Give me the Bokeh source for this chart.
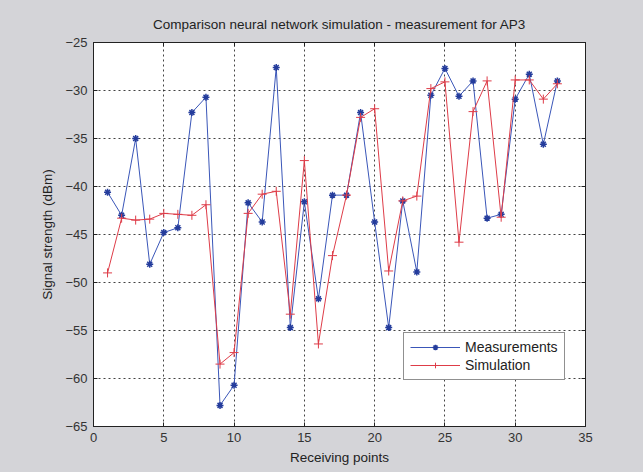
from bokeh.plotting import figure
from bokeh.models import (ColumnDataSource, Range1d, LinearAxis, Legend, LegendItem,
                          FixedTicker, Title)
from bokeh.embed import file_html
from bokeh.resources import INLINE
from bokeh.core.templates import get_env

# ---- data ----
points = list(range(1, 34))
measurements = [-40.6, -43.0, -35.0, -48.1, -44.8, -44.3, -32.3, -30.7, -62.8, -60.7,
                -41.7, -43.7, -27.6, -54.7, -41.6, -51.7, -40.9, -40.9, -32.3, -43.7,
                -54.7, -41.5, -48.9, -30.5, -27.7, -30.6, -29.0, -43.3, -42.9, -30.9,
                -28.3, -35.6, -29.0]
simulation = [-49.0, -43.3, -43.5, -43.4, -42.8, -42.9, -43.0, -41.9, -58.5, -57.3,
              -42.8, -40.8, -40.5, -53.3, -37.3, -56.4, -47.2, -40.9, -32.8, -31.9,
              -48.8, -41.5, -41.0, -29.8, -29.1, -45.8, -32.2, -29.0, -43.2, -28.9,
              -28.9, -30.9, -29.3]
x_ticks = [0, 5, 10, 15, 20, 25, 30, 35]
y_ticks = [-65, -60, -55, -50, -45, -40, -35, -30, -25]
title_text = "Comparison neural network simulation - measurement for AP3"
x_label = "Receiving points"
y_label = "Signal strength (dBm)"
series_names = ["Measurements", "Simulation"]

BG = "#d4d4d8"
BLUE = "#3a56b8"
RED = "#de3c48"
FONT = "Liberation Sans"

src = ColumnDataSource(dict(x=points, m=measurements, s=simulation))

p = figure(width=643, height=472, output_backend="svg", toolbar_location=None,
           x_range=Range1d(0, 35), y_range=Range1d(-65, -25),
           min_border_left=93, min_border_right=58, min_border_top=42, min_border_bottom=46)
p.frame_width = 492
p.frame_height = 384

p.background_fill_color = "white"
p.border_fill_color = BG
p.outline_line_color = "#222222"
p.outline_line_width = 1

p.title = Title(text=title_text, align="center", text_font=FONT, text_font_size="13.5px",
                text_font_style="normal", text_color="#222222", offset=0, standoff=22)
p.title.align = "center"

for ax, ticks in ((p.xaxis[0], x_ticks), (p.yaxis[0], y_ticks)):
    ax.ticker = FixedTicker(ticks=ticks)
    ax.major_tick_in = 4
    ax.major_tick_out = 0
    ax.minor_tick_line_color = None
    ax.axis_line_color = "#222222"
    ax.major_tick_line_color = "#222222"
    ax.major_label_text_font = FONT
    ax.major_label_text_font_size = "13px"
    ax.major_label_text_color = "#333333"
    ax.axis_label_text_font = FONT
    ax.axis_label_text_font_size = "13.5px"
    ax.axis_label_text_font_style = "normal"
    ax.axis_label_text_color = "#222222"

p.xaxis[0].axis_label = x_label
p.yaxis[0].axis_label = y_label
p.xaxis[0].major_label_standoff = 6
p.xaxis[0].axis_label_standoff = 5
p.yaxis[0].major_label_standoff = 6
p.yaxis[0].axis_label_standoff = 7

for loc, ticks in (("right", y_ticks), ("above", x_ticks)):
    ax = LinearAxis(ticker=FixedTicker(ticks=ticks), major_tick_in=4, major_tick_out=0,
                    minor_tick_line_color=None, major_label_text_font_size="0px",
                    major_label_text_color=None, axis_line_color="#222222",
                    major_tick_line_color="#222222", major_label_standoff=0)
    p.add_layout(ax, loc)

p.xgrid.ticker = FixedTicker(ticks=x_ticks)
p.ygrid.ticker = FixedTicker(ticks=y_ticks)
for g in (p.xgrid[0], p.ygrid[0]):
    g.grid_line_color = "#222222"
    g.grid_line_dash = "2 3"
    g.grid_line_alpha = 0.85
    g.grid_line_width = 1

lm = p.line("x", "m", source=src, line_color=BLUE, line_width=1)
mm = p.scatter("x", "m", source=src, marker="asterisk", size=7, line_color="#243c9c",
               line_width=1.5)
ls = p.line("x", "s", source=src, line_color=RED, line_width=1)
ms = p.scatter("x", "s", source=src, marker="cross", size=9, line_color=RED, line_width=1)

legend = Legend(items=[LegendItem(label=series_names[0], renderers=[lm, mm]),
                       LegendItem(label=series_names[1], renderers=[ls, ms])],
                location=(310, 46), orientation="vertical",
                label_text_font=FONT, label_text_font_size="14px", label_text_color="#222222",
                border_line_color="#222222", border_line_width=1,
                background_fill_color="white", background_fill_alpha=1,
                glyph_width=50, glyph_height=14, label_height=14, spacing=2,
                padding=6, margin=0, label_standoff=5)
p.add_layout(legend, "center")

tmpl = get_env().from_string(
    "{% extends base %}{% block postamble %}<style>html, body {background: " + BG +
    ";}</style>{% endblock %}")

open("out.html", "w").write(file_html(p, INLINE, template=tmpl))
